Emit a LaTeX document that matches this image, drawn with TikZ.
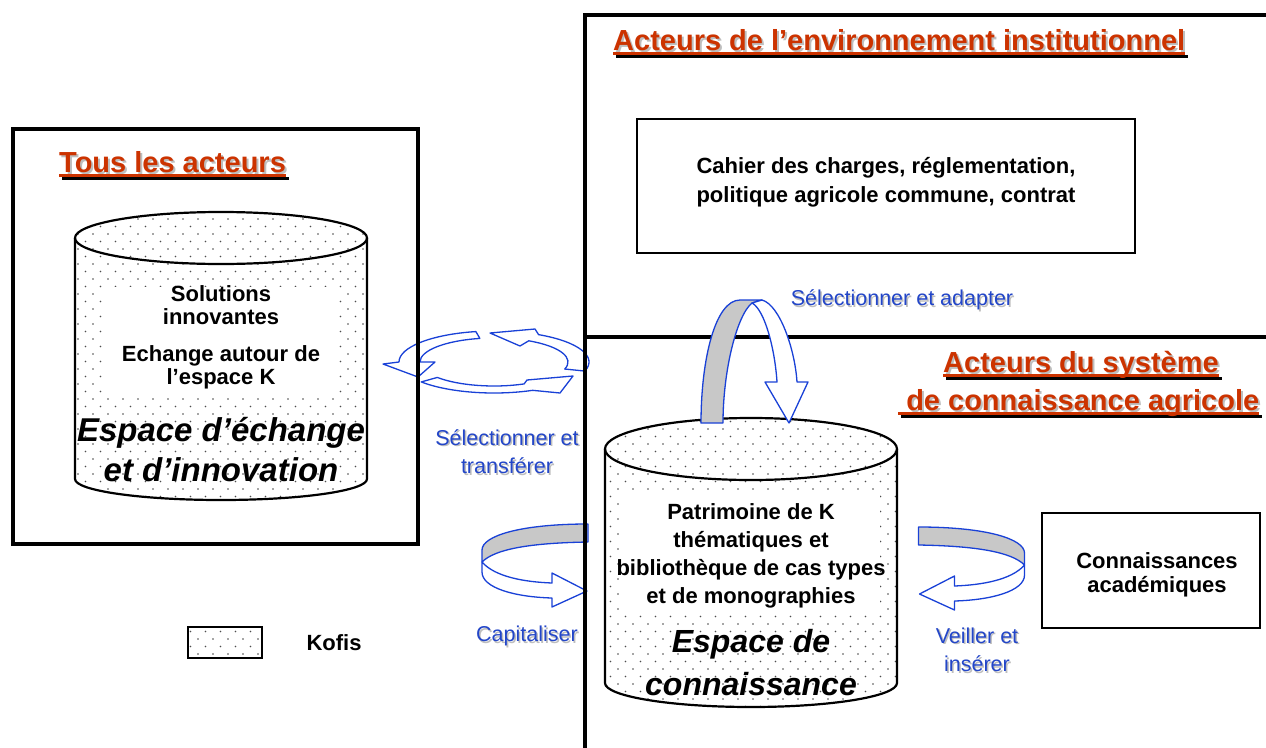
\documentclass[tikz,border=0pt]{standalone}
\usepackage{fontspec}
\setmainfont{Liberation Sans}
\usetikzlibrary{patterns,calc}
\definecolor{titlered}{RGB}{204,51,0}
\definecolor{shade}{RGB}{190,190,190}
\definecolor{arrowblue}{RGB}{25,65,215}
\definecolor{labelblue}{RGB}{35,70,200}
\definecolor{bandgray}{RGB}{200,200,200}
\pgfdeclarepatternformonly{kdots}{\pgfqpoint{-1pt}{-1pt}}{\pgfqpoint{16pt}{16pt}}{\pgfqpoint{15pt}{15pt}}{%
  \pgfpathcircle{\pgfqpoint{3pt}{3pt}}{0.95pt}%
  \pgfpathcircle{\pgfqpoint{10.5pt}{10.5pt}}{0.95pt}%
  \pgfusepath{fill}}
\newcommand\titletext[4]{%
  \node[ttl, text=shade] (#1s) at (#2+2,#3+2) {#4};
  \draw[shade, line width=2.6pt] ($(#1s.base west)+(1,4.5)$) -- ($(#1s.base east)+(1,4.5)$);
  \node[ttl] (#1) at (#2,#3) {#4};
  \draw[titlered, line width=2.6pt] ($(#1.base west)+(0,3.5)$) -- ($(#1.base east)+(0,3.5)$);}
\newcommand\bluelabel[4]{%
  \node[lbl, text=shade] at (#2+1.5,#3+1.5) {#4};
  \node[lbl] (#1) at (#2,#3) {#4};}
\newcommand\cylinder[6]{% cx, top y, bottom y, rx, top ry, bottom ry
  \path[fill=white] (#1-#4,#2) arc[start angle=180,end angle=360,x radius=#4,y radius=#5]
     -- (#1+#4,#3) arc[start angle=0,end angle=180,x radius=#4,y radius=#6] -- cycle;
  \path[dotfill] (#1-#4,#2) arc[start angle=180,end angle=360,x radius=#4,y radius=#5]
     -- (#1+#4,#3) arc[start angle=0,end angle=180,x radius=#4,y radius=#6] -- cycle;}
\newcommand\cylinderline[6]{%
  \draw[cylline] (#1-#4,#2) -- (#1-#4,#3) arc[start angle=180,end angle=0,x radius=#4,y radius=#6] -- (#1+#4,#2);
  \draw[cylline] (#1,#2) ellipse[x radius=#4, y radius=#5];}
\begin{document}
\begin{tikzpicture}[x=1pt,y=-1pt,
  frame/.style={line width=4pt},
  cylline/.style={line width=2.2pt},
  ttl/.style={font=\fontsize{29}{34}\selectfont\bfseries, text=titlered, inner sep=0pt, anchor=base west},
  body/.style={font=\fontsize{22}{23}\selectfont\bfseries, align=center, inner sep=0pt},
  big/.style={font=\fontsize{33}{40}\selectfont\bfseries\itshape, align=center, inner sep=0pt},
  lbl/.style={font=\fontsize{21.5}{28.5}\selectfont, text=labelblue, align=center, inner sep=0pt},
  ringarrow/.style={draw=arrowblue, line width=1.3pt, line join=round},
  backband/.style={draw=arrowblue, line width=1.3pt, fill=bandgray, line join=round},
  frontband/.style={draw=arrowblue, line width=1.3pt, fill=white, line join=round},
  dotfill/.style={pattern=kdots, pattern color=black!70},
]
\useasboundingbox (0,0) rectangle (1266,747);
\clip (0,0) rectangle (1266,747);
\fill[white] (0,0) rectangle (1266,747);

% ---------- cylinders ----------
\coordinate (cylL) at (221,238);
\coordinate (cylR) at (751,449);
\cylinder{221}{238}{479}{146}{26}{21}
\node[fill=white, inner sep=0pt, minimum width=232pt, minimum height=110pt] (whiteL) at (221,342) {};
\node[body] (solutions) at (221,305.5) {Solutions\\innovantes};
\node[body] (echange) at (221,367) {Echange autour de\\l’espace K};
\node[big] (espL) at (221,450) {Espace d’échange\\et d’innovation};
\cylinderline{221}{238}{479}{146}{26}{21}

\cylinder{751}{449}{683}{146}{31}{24}
\node[fill=white, inner sep=0pt, minimum width=260pt, minimum height=122pt] (whiteR) at (750,551) {};
\node[body, font=\fontsize{22}{28}\selectfont\bfseries] (patrimoine) at (751,556) {Patrimoine de K\\thématiques et\\bibliothèque de cas types\\et de monographies};
\node[big, font=\fontsize{32}{43}\selectfont\bfseries\itshape] (espR) at (751,662.5) {Espace de\\connaissance};
\cylinderline{751}{449}{683}{146}{31}{24}

% ---------- legend ----------
\path[fill=white] (188,627) rectangle (262,658);
\path[dotfill] (188,627) rectangle (262,658);
\draw[line width=2.5pt] (188,627) rectangle (262,658);
\node[body] (kofis) at (334,643) {Kofis};

% ---------- exchange ring ----------
\coordinate (rc) at (494,362);
\draw[ringarrow] ($(rc)+(259:95 and 31)$) arc[start angle=259, end angle=180, x radius=95, y radius=31]
  -- (383,364) -- (418,377) -- (435,362) -- ($(rc)+(180:74 and 24)$)
  arc[start angle=180, end angle=259, x radius=74, y radius=24] -- cycle;
\draw[ringarrow] ($(rc)+(140:95 and 31)$) arc[start angle=140, end angle=66, x radius=95, y radius=31]
  -- (560,393) -- (573,376) -- (527,380) -- ($(rc)+(66:74 and 24)$)
  arc[start angle=66, end angle=140, x radius=74, y radius=24] -- cycle;
\draw[ringarrow] ($(rc)+(17:95 and 31)$) arc[start angle=17, end angle=-62, x radius=95, y radius=31]
  -- (535,329) -- (490,333) -- (520,346) -- ($(rc)+(-62:74 and 24)$)
  arc[start angle=-62, end angle=17, x radius=74, y radius=24] -- cycle;

% ---------- frames ----------
\draw[frame] (13,129) rectangle (418,544);
\draw[frame] (1275,15) -- (585,15);
\draw[frame] (585,337) -- (1275,337);
\node[draw, line width=1.3pt, minimum width=498pt, minimum height=134pt, inner sep=0pt] (cahierbox) at (886,186) {};
\node[body, font=\fontsize{22}{29}\selectfont\bfseries] (cahier) at (886,182.5) {Cahier des charges, réglementation,\\politique agricole commune, contrat};
\node[draw, line width=1.3pt, minimum width=218pt, minimum height=115pt, inner sep=0pt] (acadbox) at (1151,570.5) {};
\node[body, font=\fontsize{22}{24}\selectfont\bfseries] (acad) at (1157,575) {Connaissances\\académiques};

% ---------- arch arrow: Selectionner et adapter ----------
\draw[backband] (701,423) .. controls (701,360) and (715,300) .. (740,300) -- (762,300)
  -- (752,303) .. controls (737,315) and (723,370) .. (723,423) -- cycle;
\draw[frontband] (762,300) .. controls (780,305) and (795,350) .. (797,382) -- (808,382) -- (789,423)
  -- (765,382) -- (777,382) .. controls (775,350) and (765,310) .. (752,303) -- cycle;

% ---------- capitaliser ----------
\draw[backband] (588,524) .. controls (520,524) and (482,536) .. (482,550) -- (482,562)
  .. controls (495,549) and (530,543) .. (588,542) -- cycle;
\draw[frontband] (482,562) .. controls (495,577) and (525,582) .. (552,583) -- (552,573) -- (587,591)
  -- (552,607) -- (552,598) .. controls (515,597) and (482,588) .. (482,572) -- cycle;

% ---------- veiller et inserer ----------
\draw[backband] (918.5,527) .. controls (986.5,527) and (1024.5,539) .. (1024.5,553) -- (1024.5,565)
  .. controls (1011.5,552) and (976.5,546) .. (918.5,545) -- cycle;
\draw[frontband] (1024.5,565) .. controls (1011.5,580) and (981.5,585) .. (954.5,586) -- (954.5,576) -- (919.5,594)
  -- (954.5,610) -- (954.5,601) .. controls (991.5,600) and (1024.5,591) .. (1024.5,575) -- cycle;

\draw[frame] (585,13) -- (585,750);

% ---------- titles ----------
\titletext{tous}{59}{172}{Tous les acteurs}
\titletext{inst}{613}{50}{Acteurs de l’environnement institutionnel}
\titletext{sysA}{943}{372}{Acteurs du système}
\titletext{sysB}{898}{410}{\ de connaissance agricole}

% ---------- blue labels ----------
\bluelabel{adapter}{902}{300}{Sélectionner et adapter}
\bluelabel{transferer}{507}{451.5}{Sélectionner et\\transférer}
\bluelabel{capitaliser}{527}{636}{Capitaliser}
\bluelabel{veiller}{977}{650}{Veiller et\\insérer}
\end{tikzpicture}
\end{document}
